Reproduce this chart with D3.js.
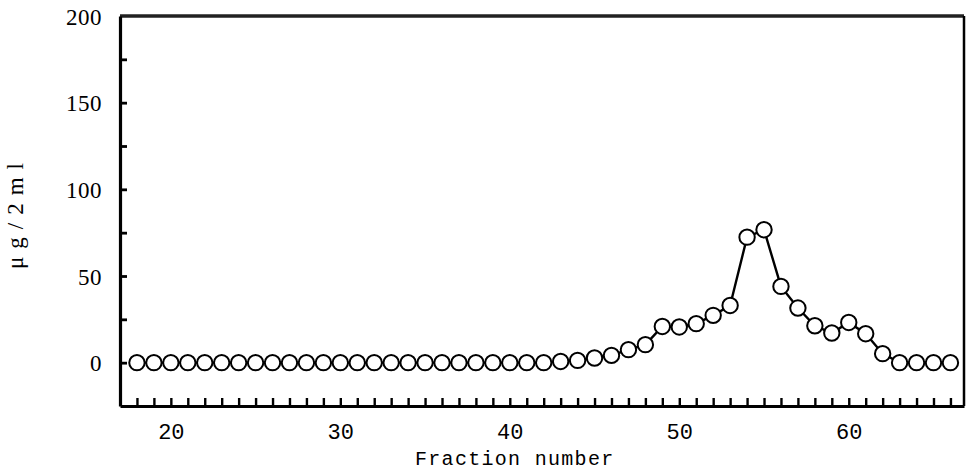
<!DOCTYPE html>
<html>
<head>
<meta charset="utf-8">
<script src="https://cdn.jsdelivr.net/npm/d3@7"></script>
<style>
  html, body { margin: 0; padding: 0; background: #fff; }
  svg { display: block; }
</style>
</head>
<body>
<svg id="chart" width="968" height="472"></svg>
<script>
// ---- data ----
const fractions = [18,19,20,21,22,23,24,25,26,27,28,29,30,31,32,33,34,35,36,37,38,39,40,41,42,
                   43,44,45,46,47,48,49,50,51,52,53,54,55,56,57,58,59,60,61,62,63,64,65,66];
const values = [0,0,0,0,0,0,0,0,0,0,0,0,0,0,0,0,0,0,0,0,0,0,0,0,0,
                0.7,1.3,2.7,4.2,7.5,10.4,20.9,20.6,22.5,27.3,33,72.4,76.7,44,31.5,21.3,17.1,23.2,16.7,5.2,0,0,0,0];
const xTickLabels = [20,30,40,50,60];
const yTickLabels = [0,50,100,150,200];
const yMinorTicks = [0,25,50,75,100,125,150,175];
const xMinorTicks = d3.range(18, 67);
const xTitle = "Fraction number";
const yTitle = "μg/2ml";

// ---- layout ----
const svg = d3.select("#chart");
const pLeft = 120, pRight = 964, pTop = 16, pBottom = 406;

const x = d3.scaleLinear().domain([17, 66.8]).range([pLeft, pRight]);
const y = d3.scaleLinear().domain([-25, 200]).range([pBottom, pTop]);

// frame top and right
svg.append("line").attr("x1", pLeft).attr("x2", pRight).attr("y1", pTop).attr("y2", pTop)
  .attr("stroke", "#222").attr("stroke-width", 3.5);
svg.append("line").attr("x1", pRight).attr("x2", pRight).attr("y1", pTop).attr("y2", pBottom)
  .attr("stroke", "#000").attr("stroke-width", 2.5);

// bottom axis
const xAxis = svg.append("g").attr("transform", `translate(0,${pBottom})`)
  .call(d3.axisBottom(x).tickValues(xMinorTicks).tickSizeInner(-8).tickSizeOuter(0).tickFormat(""));
xAxis.select(".domain").attr("stroke", "#000").attr("stroke-width", 3);
xAxis.selectAll(".tick line").attr("stroke", "#000").attr("stroke-width", 2.4);

const xLab = svg.append("g").attr("transform", `translate(0,${pBottom})`)
  .call(d3.axisBottom(x).tickValues(xTickLabels).tickSize(0).tickPadding(0).tickFormat(d3.format("d")));
xLab.select(".domain").remove();
xLab.attr("font-family", null).attr("font-size", null);
xLab.selectAll("text")
  .attr("y", 33).attr("dy", 0)
  .style("font-family", "'Liberation Mono', monospace")
  .style("font-size", "22px").attr("fill", "#000");

// left axis
const yAxis = svg.append("g").attr("transform", `translate(${pLeft},0)`)
  .call(d3.axisLeft(y).tickValues(yMinorTicks).tickSizeInner(-7).tickSizeOuter(0).tickFormat(""));
yAxis.select(".domain").attr("stroke", "#000").attr("stroke-width", 3.2);
yAxis.selectAll(".tick line").attr("stroke", "#000").attr("stroke-width", 2.8);

const yLab = svg.append("g").attr("transform", `translate(${pLeft},0)`)
  .call(d3.axisLeft(y).tickValues(yTickLabels).tickSize(0).tickPadding(18).tickFormat(d3.format("d")));
yLab.select(".domain").remove();
yLab.attr("font-family", null).attr("font-size", null);
yLab.selectAll("text")
  .attr("dy", "0.36em")
  .style("font-family", "'Liberation Serif', 'Times New Roman', serif")
  .style("font-size", "23px").style("letter-spacing", "0.5px").attr("fill", "#000");

// titles
svg.append("text")
  .attr("x", 415).attr("y", 465)
  .style("font-family", "'Liberation Mono', monospace")
  .style("font-size", "20px").style("letter-spacing", "1.3px")
  .attr("fill", "#000")
  .text(xTitle);

svg.append("text")
  .attr("transform", "translate(23,212) rotate(-90)")
  .attr("text-anchor", "middle")
  .style("font-family", "'Liberation Serif', 'Times New Roman', serif")
  .style("font-size", "23px").style("letter-spacing", "8px")
  .attr("fill", "#000")
  .text(yTitle);

// series
const pts = fractions.map((f, i) => ({f, v: values[i]}));
svg.append("path").datum(pts)
  .attr("fill", "none").attr("stroke", "#000").attr("stroke-width", 2.4)
  .attr("d", d3.line().x(d => x(d.f)).y(d => y(d.v)));

svg.append("g").selectAll("circle").data(pts).join("circle")
  .attr("cx", d => x(d.f)).attr("cy", d => y(d.v)).attr("r", 7.7)
  .attr("fill", "#fff").attr("stroke", "#000").attr("stroke-width", 2);
</script>
</body>
</html>
